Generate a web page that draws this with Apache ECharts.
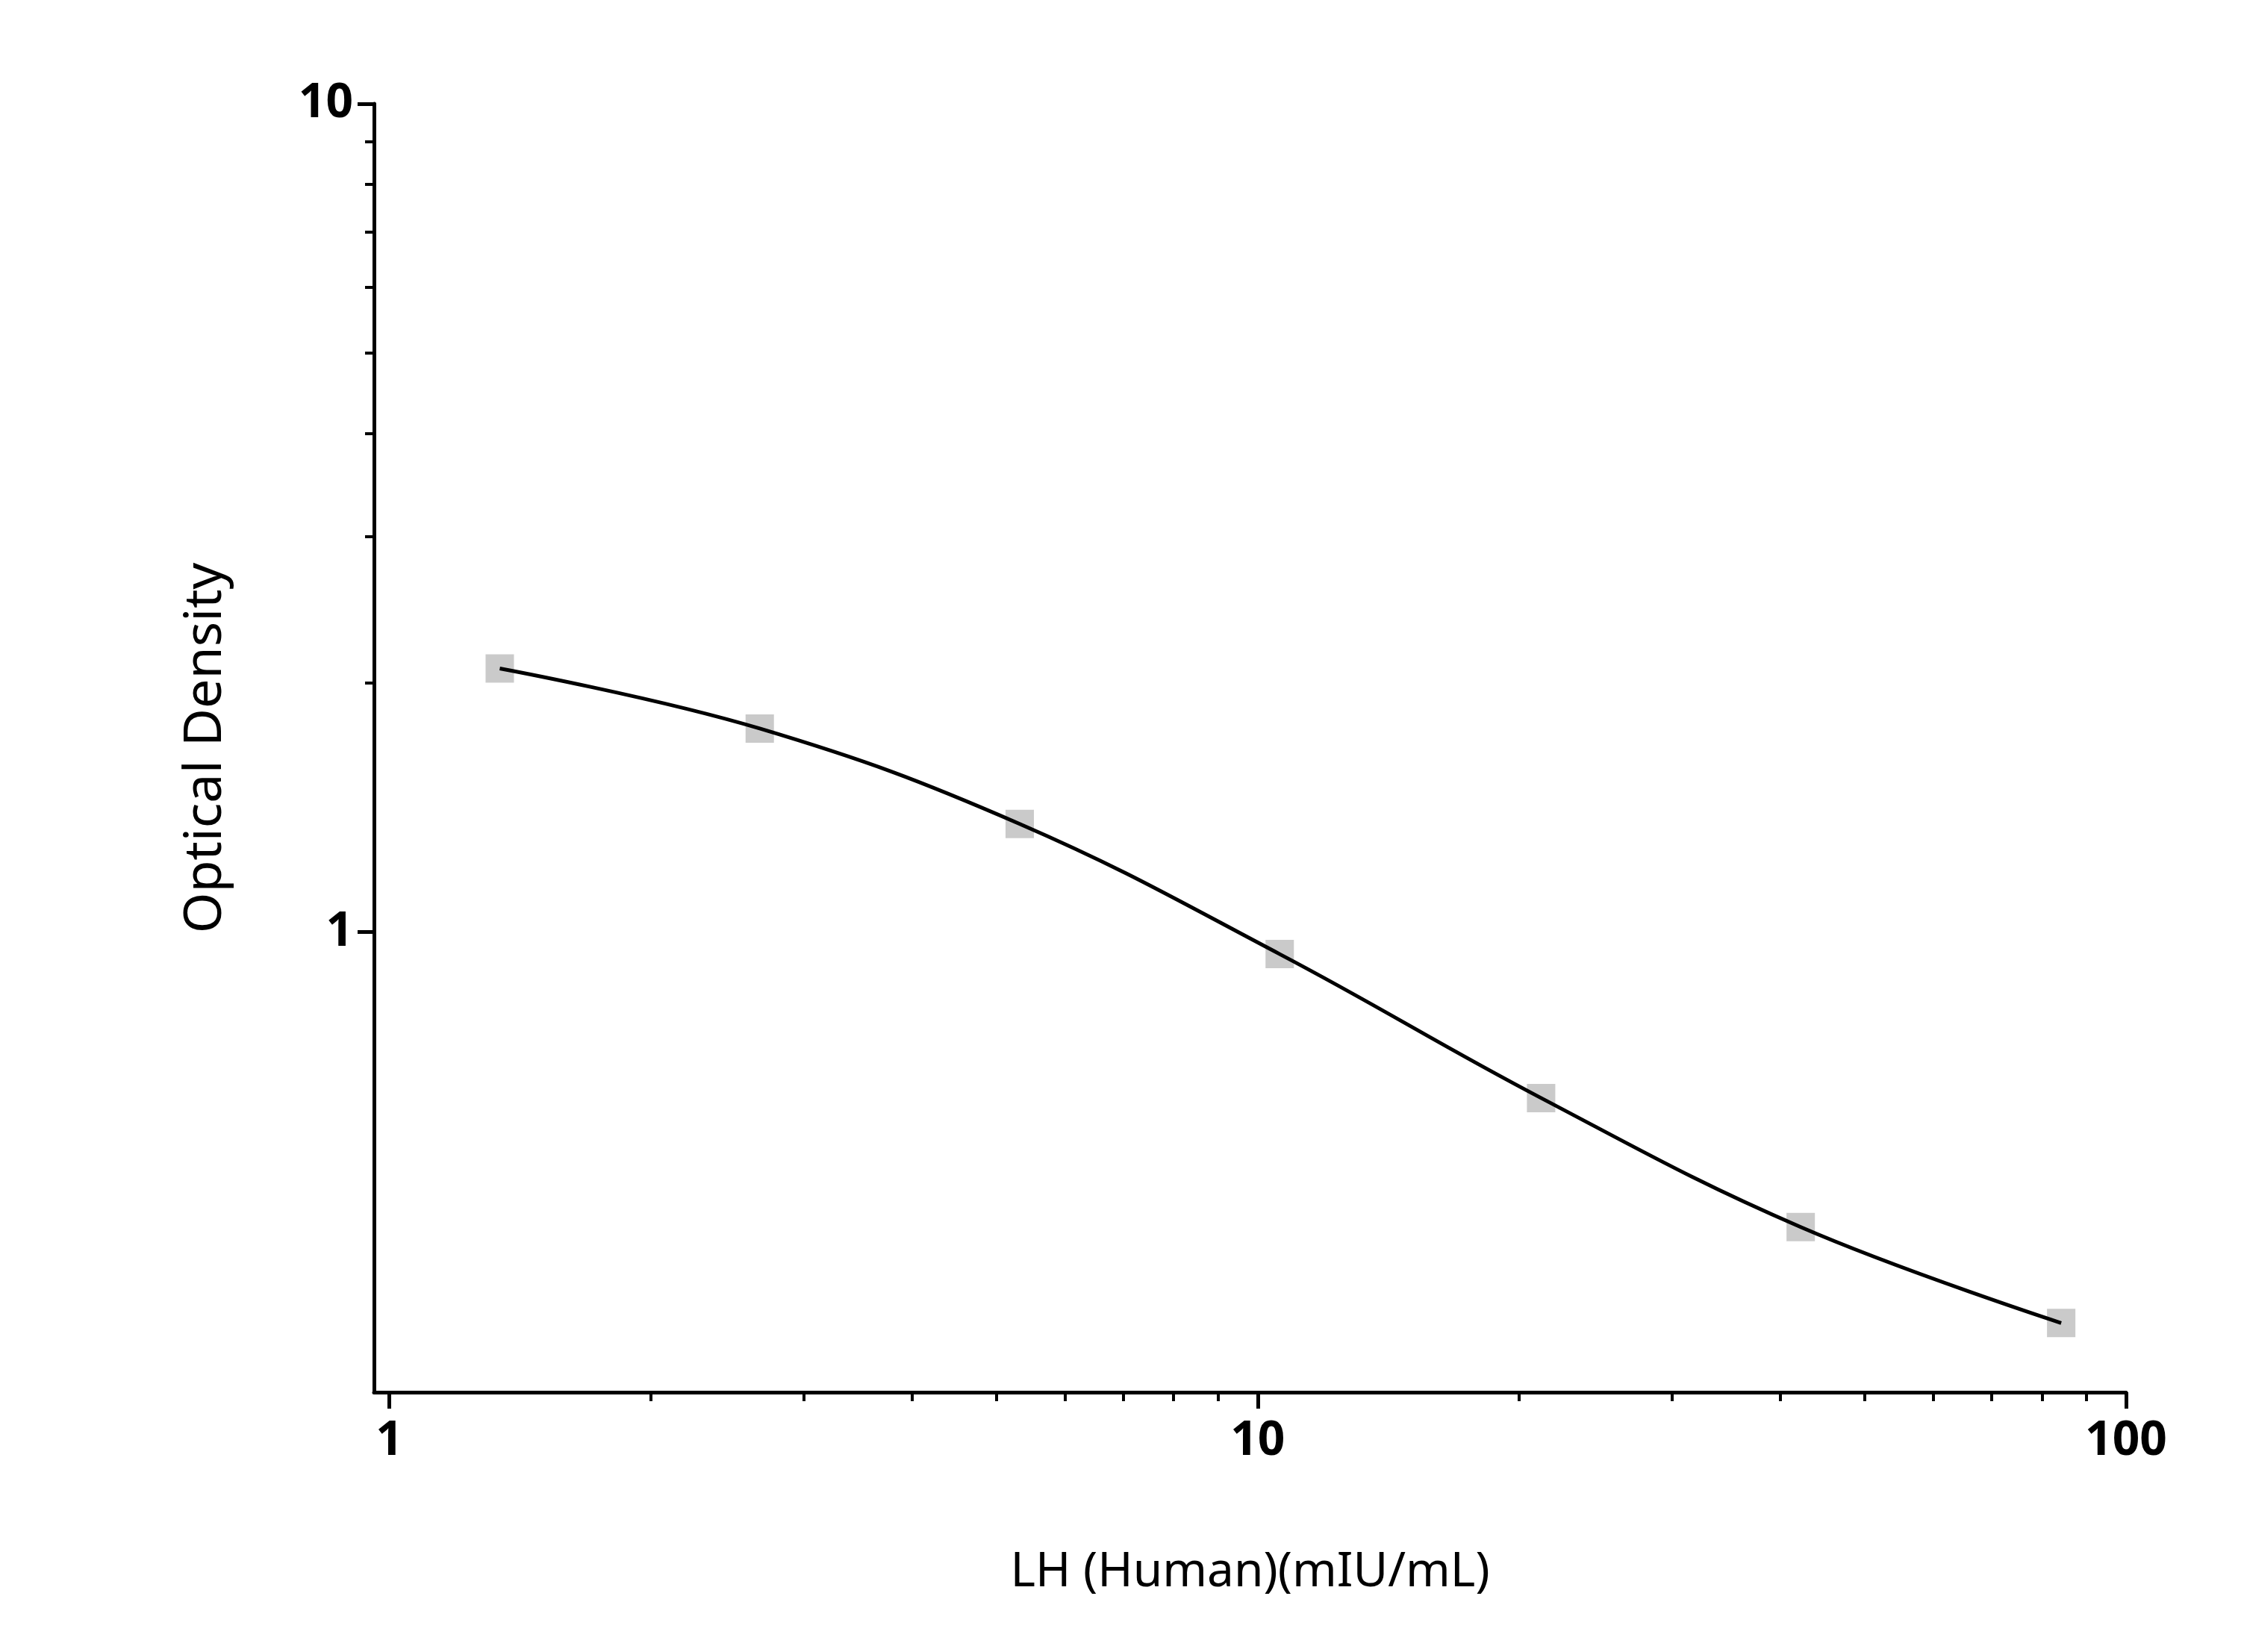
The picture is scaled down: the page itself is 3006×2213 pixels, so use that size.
<!DOCTYPE html>
<html><head><meta charset="utf-8">
<script src="https://cdn.jsdelivr.net/npm/echarts@6/dist/echarts.min.js"></script>
<style>html,body{margin:0;background:#fff}#c{width:3006px;height:2213px}</style>
</head><body><div id="c"></div>
<script>
const conc = [1.34, 2.67, 5.32, 10.6, 21.2, 42.2, 84.2]
const od = [2.08, 1.76, 1.35, 0.94, 0.63, 0.44, 0.337]
const xMajor = [1, 10, 100]
const xMinor = [2,3,4,5,6,7,8,9,20,30,40,50,60,70,80,90]
const yMajor = [1, 10]
const yMinor = [2,3,4,5,6,7,8,9]

const font = 'Noto Sans'
const pts = conc.map((c,i)=>[c, od[i]])
const axLine = {lineStyle:{color:'#000', width:5}}
const chart = echarts.init(document.getElementById('c'))
chart.setOption({
  animation:false,
  grid:{left:501, right:158, top:139, bottom:348},
  xAxis:[
    {type:'log', min:0.96, max:100, name:'LH (Human)(mIU/mL)', nameLocation:'middle', nameGap:210,
     nameTextStyle:{fontFamily:font, fontSize:64, color:'#000'},
     axisLine:axLine, splitLine:{show:false},
     axisTick:{inside:false, length:22, lineStyle:{width:5,color:'#000'}, customValues:xMajor},
     axisLabel:{customValues:xMajor, fontFamily:font, fontWeight:'bold', fontSize:64, color:'#000', margin:34}},
    {type:'log', min:0.96, max:100, position:'bottom', axisLine:{show:false}, splitLine:{show:false},
     axisTick:{length:12, lineStyle:{width:4,color:'#000'}, customValues:xMinor},
     axisLabel:{show:false}}
  ],
  yAxis:[
    {type:'log', min:0.278, max:10, name:'Optical Density', nameLocation:'middle', nameGap:190,
     nameTextStyle:{fontFamily:font, fontSize:70, color:'#000'},
     axisLine:axLine, splitLine:{show:false},
     axisTick:{length:22, lineStyle:{width:5,color:'#000'}, customValues:yMajor},
     axisLabel:{customValues:yMajor, fontFamily:font, fontWeight:'bold', fontSize:64, color:'#000', margin:28}},
    {type:'log', min:0.278, max:10, position:'left', axisLine:{show:false}, splitLine:{show:false},
     axisTick:{length:12, lineStyle:{width:4,color:'#000'}, customValues:yMinor},
     axisLabel:{show:false}}
  ],
  series:[
    {type:'line', data:pts, smooth:0.4, showSymbol:false, lineStyle:{color:'#000', width:5}, z:3},
    {type:'scatter', data:pts, symbol:'rect', symbolSize:38, itemStyle:{color:'#bdbdbd'}, z:2}
  ]
})
</script></body></html>
